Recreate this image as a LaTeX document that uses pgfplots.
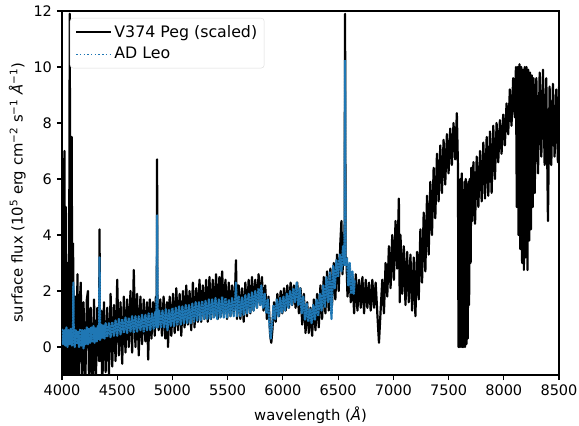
\documentclass[border=0pt]{standalone}
\usepackage{pgfplots}
\pgfplotsset{compat=1.18}
\usepackage{fontspec}
\setmainfont{DejaVu Sans}
\definecolor{tabblue}{HTML}{1F77B4}
\pgfplotstableread{
x y
4000 1.2
4008 -1.5
4015 4.5
4022 7.0
4028 -1.5
4035 5.0
4045 -1.5
4055 3.0
4062 -1.5
4068 7.9
4070 11.9
4074 5.0
4080 -1.5
4088 7.5
4094 -1.5
4100 3.7
4110 -1.5
4120 1.8
4130 -1.5
4140 2.6
4150 -1.5
4160 1.5
4170 2.3
4180 -1.5
4195 1.6
4210 -1.5
4225 1.7
4235 2.0
4245 -1.5
4260 1.4
4275 -1.5
4290 1.7
4305 -1.5
4320 1.4
4335 -0.5
4340 4.2
4345 -0.5
4355 1.3
4365 -1.5
4380 1.6
4395 -0.9
4410 1.4
4425 -1.0
4440 1.9
4455 -0.7
4470 1.5
4485 -0.5
4500 2.4
4515 -0.3
4530 1.6
4545 -0.6
4560 1.8
4575 -0.2
4590 1.7
4605 0.0
4620 2.0
4635 -0.2
4650 2.75
4665 0.0
4680 1.9
4695 -0.3
4710 1.8
4725 0.1
4740 1.7
4755 0.2
4770 1.6
4780 -0.45
4795 1.7
4810 0.3
4825 1.6
4840 0.4
4850 1.8
4858 1.5
4861 6.7
4864 1.5
4875 0.6
4890 1.7
4905 0.4
4920 1.8
4935 0.3
4950 1.6
4960 0.0
4975 1.8
4990 0.4
5005 1.9
5020 0.5
5035 2.1
5050 0.6
5065 1.9
5080 0.4
5095 2.0
5110 0.7
5125 2.2
5140 0.8
5155 2.0
5170 0.6
5185 2.3
5200 0.7
5215 2.1
5230 0.9
5245 2.4
5260 0.9
5275 2.2
5290 1.0
5305 2.4
5320 0.9
5335 2.5
5350 1.0
5365 2.4
5380 1.1
5395 2.6
5410 1.0
5425 2.5
5440 1.1
5450 2.7
5465 1.2
5480 2.4
5495 1.0
5510 2.3
5525 1.1
5540 2.2
5555 1.2
5570 2.4
5575 3.1
5585 1.0
5600 2.2
5615 1.0
5630 2.1
5645 0.9
5660 2.3
5675 1.1
5690 2.4
5705 1.2
5720 2.5
5735 1.3
5750 2.4
5765 1.4
5780 2.6
5795 1.5
5810 2.5
5825 1.3
5840 2.2
5855 1.0
5870 1.8
5885 0.4
5895 0.15
5905 0.6
5920 1.6
5935 0.9
5950 1.9
5965 1.1
5980 2.0
5995 1.2
6010 2.1
6025 1.3
6040 2.2
6055 1.4
6070 2.3
6085 1.5
6100 2.2
6115 1.4
6130 2.3
6145 1.2
6160 2.1
6175 0.8
6190 1.9
6205 0.5
6220 1.6
6235 0.5
6250 1.4
6265 0.4
6280 1.7
6295 0.6
6310 1.9
6325 0.7
6340 2.2
6355 1.0
6370 2.5
6385 1.2
6400 2.7
6415 1.3
6430 2.8
6445 1.5
6460 3.0
6475 1.7
6490 3.3
6505 2.0
6520 3.7
6530 4.5
6540 2.6
6550 4.0
6558 3.0
6563 11.9
6568 3.0
6575 3.2
6585 1.8
6600 2.8
6615 1.6
6630 2.5
6645 1.2
6660 2.6
6675 1.3
6690 2.4
6705 1.4
6720 2.5
6735 1.2
6750 2.4
6765 1.4
6780 2.3
6795 1.3
6810 2.4
6825 1.4
6840 2.3
6855 1.2
6870 0.15
6885 1.3
6900 2.4
6915 1.2
6930 3.0
6945 1.8
6960 3.6
6975 2.1
6990 4.0
7005 2.4
7020 4.5
7035 2.8
7050 5.3
7058 1.6
7065 4.0
7080 1.9
7095 3.6
7110 1.5
7125 3.4
7140 1.6
7155 3.3
7170 1.3
7185 3.2
7200 1.1
7215 3.4
7230 1.7
7245 4.2
7260 2.3
7275 4.8
7290 2.7
7305 5.4
7320 3.3
7335 5.9
7350 4.0
7365 6.4
7380 4.6
7395 6.9
7410 5.2
7425 7.2
7440 5.5
7455 7.4
7470 5.8
7485 7.6
7500 6.2
7515 7.8
7530 6.5
7545 8.0
7560 6.7
7575 8.35
7585 6.5
7590 0.0
7596 5.8
7602 0.0
7608 6.0
7614 0.0
7620 6.2
7626 0.0
7632 5.6
7638 0.0
7644 5.9
7650 0.0
7656 6.0
7662 0.1
7668 5.8
7674 0.3
7680 5.9
7686 1.5
7692 6.0
7700 3.0
7706 6.4
7714 4.5
7725 6.6
7740 4.4
7755 6.8
7770 5.0
7785 7.0
7800 5.2
7815 7.3
7830 5.3
7845 7.5
7860 5.4
7875 7.7
7890 5.5
7905 7.9
7920 6.0
7935 8.0
7950 6.6
7965 8.1
7980 6.9
7995 8.3
8010 7.2
8025 8.7
8040 7.6
8055 9.2
8070 7.9
8085 9.6
8100 8.2
8110 10.0
8118 5.0
8126 10.0
8134 4.0
8142 10.1
8150 3.5
8158 10.0
8166 3.0
8174 9.9
8182 2.75
8190 10.0
8198 3.2
8206 10.0
8214 2.75
8222 9.9
8230 3.8
8238 9.8
8246 4.2
8254 9.7
8262 5.0
8270 9.6
8280 5.5
8295 9.6
8310 6.2
8325 9.8
8340 6.8
8355 9.9
8370 6.5
8385 9.6
8400 4.5
8415 9.3
8430 6.5
8445 9.4
8460 6.8
8475 9.2
8490 6.6
8500 9.3
}\vpeg
\pgfplotstableread{
x y
4000 0.65
4010 0.1
4020 0.6
4030 0.05
4040 0.7
4050 0.0
4060 0.6
4070 0.1
4080 0.65
4090 0.05
4100 0.6
4103 2.3
4106 0.5
4115 0.0
4125 0.6
4135 0.1
4145 0.55
4155 0.0
4165 0.65
4175 0.05
4185 0.6
4195 -0.05
4205 0.6
4215 0.1
4225 0.7
4235 0.1
4245 0.65
4255 0.15
4265 0.7
4275 0.2
4285 0.75
4295 0.15
4305 0.7
4315 0.2
4325 0.75
4335 0.25
4340 3.2
4345 0.25
4355 0.8
4365 0.3
4375 0.8
4385 0.3
4395 0.85
4410 0.35
4425 0.85
4440 0.35
4455 0.9
4470 0.4
4485 0.95
4500 0.4
4515 1.0
4530 0.45
4545 1.0
4560 0.5
4575 1.05
4590 0.5
4605 1.05
4620 0.55
4635 1.1
4650 0.5
4665 1.1
4680 0.55
4695 1.1
4710 0.6
4725 1.15
4740 0.55
4755 1.15
4770 0.6
4785 1.2
4800 0.6
4815 1.2
4830 0.65
4845 1.25
4855 0.7
4861 4.7
4867 0.7
4880 1.3
4895 0.7
4910 1.3
4925 0.7
4940 1.35
4955 0.6
4970 1.35
4985 0.75
5000 1.4
5015 0.75
5030 1.4
5045 0.8
5060 1.45
5075 0.8
5090 1.45
5105 0.85
5120 1.5
5135 0.85
5150 1.5
5165 0.85
5180 1.55
5195 0.9
5210 1.6
5225 0.95
5240 1.6
5255 0.95
5270 1.65
5285 1.0
5300 1.65
5315 1.0
5330 1.7
5345 1.0
5360 1.7
5375 1.05
5390 1.75
5405 1.0
5420 1.7
5435 1.05
5450 1.8
5465 1.05
5480 1.75
5495 1.05
5510 1.7
5525 1.1
5540 1.75
5555 1.1
5570 1.8
5575 2.3
5585 1.1
5600 1.8
5615 1.1
5630 1.8
5645 1.15
5660 1.85
5675 1.2
5690 1.9
5705 1.2
5720 1.95
5735 1.3
5750 2.0
5765 1.4
5780 2.1
5795 1.5
5805 2.2
5820 1.4
5835 1.9
5850 1.2
5865 1.7
5880 0.7
5890 0.3
5900 0.7
5915 1.5
5930 1.0
5945 1.7
5960 1.1
5975 1.75
5990 1.2
6005 1.8
6020 1.3
6035 1.9
6050 1.4
6065 2.0
6080 1.5
6095 2.1
6110 1.6
6125 2.3
6140 1.5
6155 2.1
6170 1.2
6185 1.8
6200 0.95
6215 1.55
6230 0.9
6245 1.35
6260 0.85
6275 1.5
6290 0.95
6305 1.7
6320 1.1
6335 1.9
6350 1.3
6365 2.2
6380 1.4
6395 2.5
6410 1.6
6425 2.7
6440 1.0
6455 2.9
6470 2.1
6485 3.1
6500 2.5
6515 3.3
6530 2.7
6545 3.6
6558 2.9
6563 10.25
6568 2.9
6580 3.2
6592 2.2
6605 3.0
6618 1.9
6630 2.7
6642 1.9
6650 2.4
}\adleo
\begin{document}
\fontsize{14.5}{17}\selectfont
\begin{tikzpicture}
\useasboundingbox (-62pt,-51pt) rectangle (517pt,375pt);
\begin{axis}[
  at={(0pt,0pt)}, anchor=south west,
  scale only axis, width=497pt, height=364pt,
  xmin=4000, xmax=8500, ymin=-1, ymax=12,
  xtick={4000,4500,...,8500}, ytick={0,2,...,12},
  /pgf/number format/assume math mode=true,
  /pgf/number format/1000 sep={},
  tick label style={font=\fontsize{14.5}{17}\selectfont},
  label style={font=\fontsize{14.8}{17}\selectfont},
  axis line style={line width=1.1pt},
  tick style={line width=1.1pt, black},
  tick align=outside, major tick length=5pt,
  xtick pos=bottom, ytick pos=left,
  xlabel={wavelength (\textit{Å})},
  ylabel={surface flux (10\textsuperscript{5} erg cm\textsuperscript{−2} s\textsuperscript{−1} \textit{Å}\textsuperscript{−1})},
  xlabel style={yshift=-1pt},
  ylabel style={yshift=-2pt},
  legend cell align=left,
  legend style={at={(0,1)}, anchor=north west, xshift=8pt, yshift=-7pt,
    draw=black!15, rounded corners=3pt, font=\fontsize{15.8}{18}\selectfont,
    row sep=4pt, inner xsep=5pt, inner ysep=5pt},
  legend image code/.code={\draw[#1] (0pt,0pt) -- (35pt,0pt);},
]
\addplot[black, line width=2.2pt, line join=round] table[x=x,y=y] {\vpeg};
\addlegendentry{V374 Peg (scaled)}
\addplot[tabblue, line width=2.2pt, line join=round, dash pattern=on 2.4pt off 0.5pt,
  legend image code/.code={\draw[tabblue, line width=1.4pt, dash pattern=on 1.4pt off 2.3pt] (0pt,0pt) -- (35pt,0pt);}] table[x=x,y=y] {\adleo};
\addlegendentry{AD Leo}
\end{axis}
\end{tikzpicture}
\end{document}
